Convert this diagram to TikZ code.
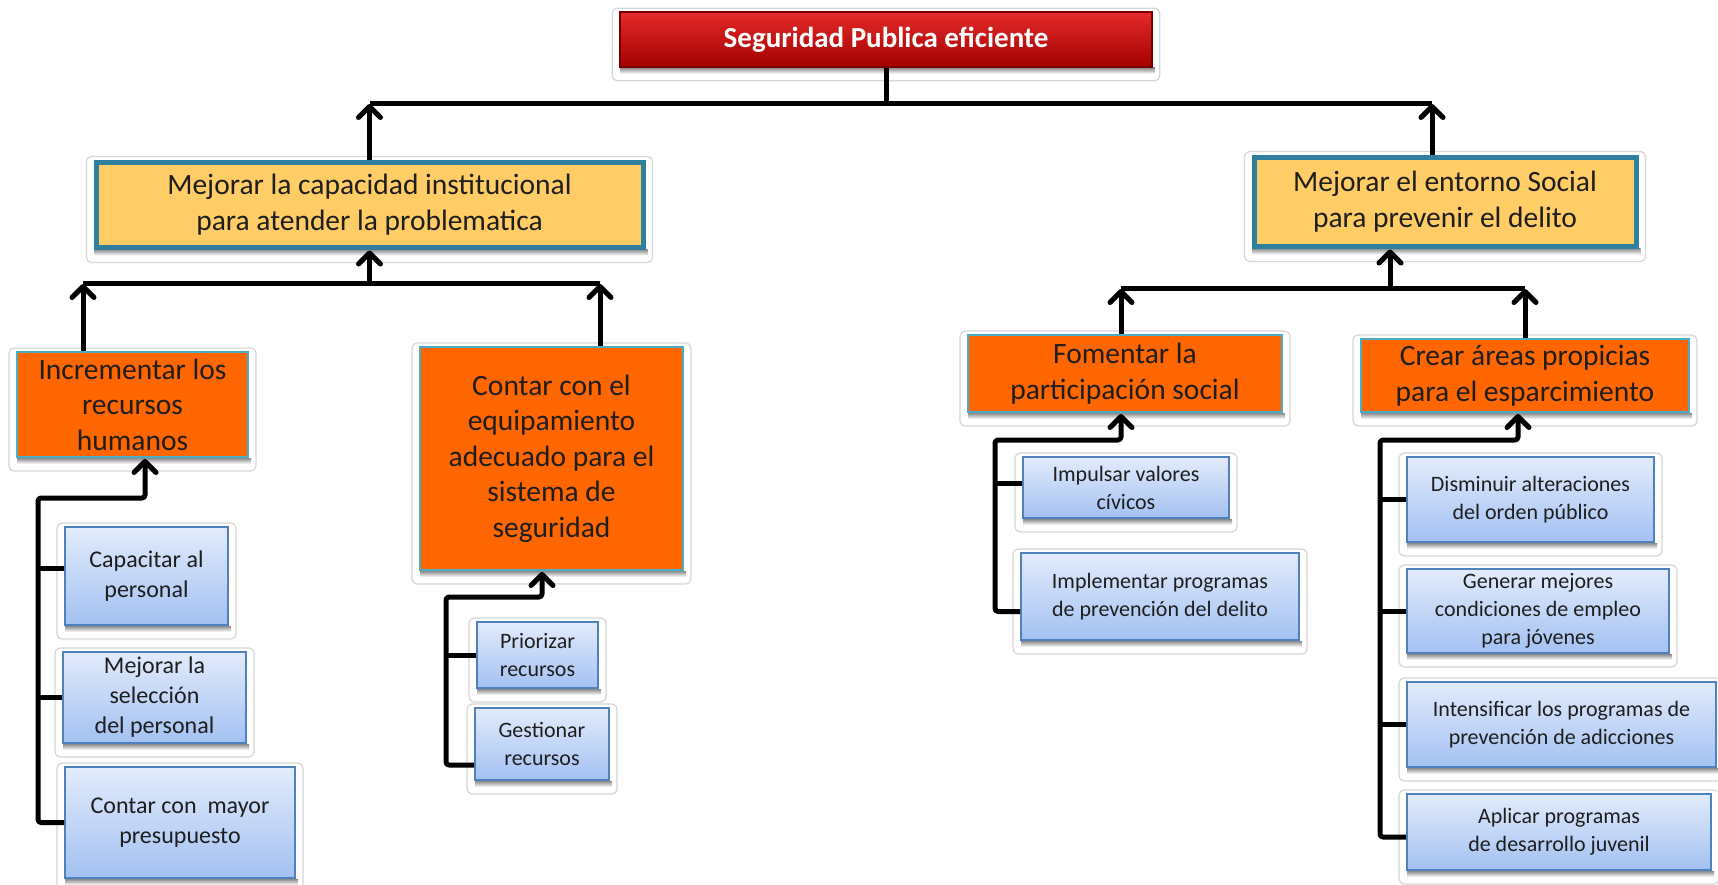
\documentclass[tikz,border=0pt]{standalone}
\usepackage{fontspec}
\setmainfont{Carlito}
\usetikzlibrary{arrows.meta,backgrounds}
\definecolor{yfill}{HTML}{FFCC66}
\definecolor{yborder}{HTML}{2F7F9E}
\definecolor{ofill}{HTML}{FF6600}
\definecolor{oborder}{HTML}{4BACC6}
\definecolor{btop}{HTML}{E2EBFB}
\definecolor{bbot}{HTML}{A3C1F2}
\definecolor{bborder}{HTML}{4F81BD}
\definecolor{rtop}{HTML}{E42A2A}
\definecolor{rbot}{HTML}{A30000}
\definecolor{rborder}{HTML}{7A0000}
\definecolor{txt}{HTML}{1E1E1E}
\newcommand\ftitle{\fontsize{29}{35}\bfseries\selectfont}
\newcommand\fyel{\fontsize{29.5}{35.5}\selectfont}
\newcommand\forg{\fontsize{29.5}{35.5}\selectfont}
\newcommand\fbl{\fontsize{24}{30}\selectfont}
\newcommand\fbs{\fontsize{22}{28}\selectfont}
\begin{document}
\begin{tikzpicture}[x=1pt,y=-1pt,
  box/.style={inner sep=0pt, align=center, text=txt},
  redbox/.style={box, top color=rtop, bottom color=rbot, draw=rborder, line width=1.5pt, text=white, font=\ftitle},
  yelbox/.style={box, fill=yfill, draw=yborder, line width=5pt, font=\fyel},
  orgbox/.style={box, fill=ofill, draw=oborder, line width=2pt, font=\forg},
  blubox/.style={box, top color=btop, bottom color=bbot, draw=bborder, line width=2pt, font=\fbl},
  blusmall/.style={blubox, font=\fbs},
  ln/.style={line width=5pt, black, line join=round},
  arr/.style={ln, -{Straight Barb[length=11pt,width=22pt,line width=5pt,round]}, shorten >=1pt},
  halo/.style={draw=black!16, fill=white, line width=1.2pt, rounded corners=5pt},
]
\useasboundingbox (0,0) rectangle (1718,884);

% nodes
\node[redbox, minimum width=532, minimum height=55] (top) at (886,39.5) {Seguridad Publica eficiente};

\node[yelbox, minimum width=547, minimum height=85] (yL) at (369.5,204.5) {Mejorar la capacidad institucional\\para atender la problematica};
\node[yelbox, minimum width=382, minimum height=89] (yR) at (1445,201.5) {Mejorar el entorno Social\\para prevenir el delito};

\node[orgbox, minimum width=231, minimum height=105] (oInc) at (132.5,404.5) {Incrementar los\\recursos\\humanos};
\node[orgbox, minimum width=263, minimum height=223] (oCon) at (551.5,458.5) {Contar con el\\equipamiento\\adecuado para el\\sistema de\\seguridad};
\node[orgbox, minimum width=314, minimum height=77] (oFom) at (1125,373.5) {Fomentar la\\participación social};
\node[orgbox, minimum width=328, minimum height=73] (oCre) at (1525,375.5) {Crear áreas propicias\\para el esparcimiento};

\node[blubox, minimum width=163, minimum height=98] (bCap) at (146.5,576) {Capacitar al\\personal};
\node[blubox, minimum width=183, minimum height=91] (bMej) at (154.5,697.5) {Mejorar la\\selección\\del personal};
\node[blubox, minimum width=230, minimum height=111] (bMay) at (180,822.5) {Contar con\ \ mayor\\presupuesto};

\node[blusmall, minimum width=121, minimum height=66] (bPri) at (537.5,655) {Priorizar\\recursos};
\node[blusmall, minimum width=134, minimum height=72] (bGes) at (542,744) {Gestionar\\recursos};

\node[blusmall, minimum width=206, minimum height=61] (bImp) at (1126,487.5) {Impulsar valores\\cívicos};
\node[blusmall, minimum width=278, minimum height=87] (bImpl) at (1160,596.5) {Implementar programas\\de prevención del delito};

\node[blusmall, minimum width=247, minimum height=85] (bDis) at (1530.5,499.5) {Disminuir alteraciones\\del orden público};
\node[blusmall, minimum width=262, minimum height=84] (bGen) at (1538,611) {Generar mejores\\condiciones de empleo\\para jóvenes};
\node[blusmall, minimum width=309, minimum height=85] (bInt) at (1561.5,724.5) {Intensificar los programas de\\prevención de adicciones};
\node[blusmall, minimum width=304, minimum height=76] (bApl) at (1559,832) {Aplicar programas\\de desarrollo juvenil};

% halos and shadows
\begin{scope}[on background layer]
\foreach \n in {top,yL,yR,oInc,oCon,oFom,oCre,bCap,bMej,bMay,bPri,bGes,bImp,bImpl,bDis,bGen,bInt,bApl}{
  \draw[halo] ([xshift=-7pt,yshift=3pt]\n.north west) rectangle ([xshift=7pt,yshift=-13pt]\n.south east);
  \shade[top color=black!45, bottom color=white] ([xshift=1pt]\n.south west) rectangle ([xshift=2pt,yshift=-6pt]\n.south east);
}
\end{scope}

% level 1
\coordinate (b1L) at (370,103);
\coordinate (b1R) at (1432,103);
\draw[ln] (top.south) -- (top.south |- b1L);
\draw[ln] (b1L) -- (b1R);
\draw[arr] (yL.north) -- (yL.north |- b1L);
\draw[arr] (yR.north -| b1R) -- (b1R);

% level 2 left
\coordinate (b2L) at (83,283);
\coordinate (b2R) at (600,283);
\draw[ln] (b2L) -- (b2R);
\draw[arr] (yL.south |- b2L) -- (yL.south);
\draw[arr] (oInc.north -| b2L) -- (b2L);
\draw[arr] (oCon.north -| b2R) -- (b2R);

% level 2 right
\coordinate (b3L) at (1121,288);
\coordinate (b3R) at (1525,288);
\coordinate (a3) at (1390,288);
\draw[ln] (b3L) -- (b3R);
\draw[arr] (a3) -- (a3 |- yR.south);
\draw[arr] (oFom.north -| b3L) -- (b3L);
\draw[arr] (oCre.north -| b3R) -- (b3R);

% subtree Incrementar
\coordinate (tI) at (38,498);
\coordinate (aI) at (145,498);
\draw[arr, rounded corners=3pt] (bMay.west) -| (tI) -- (aI) -- (aI |- oInc.south);
\draw[ln] ([yshift=8pt]bCap.west) -- ([yshift=8pt]bCap.west -| tI);
\draw[ln] (bMej.west) -- (bMej.west -| tI);

% subtree Contar equipamiento
\coordinate (tC) at (446,597);
\coordinate (aC) at (542,597);
\draw[arr, rounded corners=3pt] ([yshift=-21pt]bGes.west) -| (tC) -- (aC) -- (aC |- oCon.south);
\draw[ln] (bPri.west) -- (bPri.west -| tC);

% subtree Fomentar
\coordinate (tF) at (995,440);
\coordinate (aF) at (1121,440);
\draw[arr, rounded corners=3pt] ([yshift=-15pt]bImpl.west) -| (tF) -- (aF) -- (aF |- oFom.south);
\draw[ln] ([yshift=4pt]bImp.west) -- ([yshift=4pt]bImp.west -| tF);

% subtree Crear
\coordinate (tR) at (1380,440);
\coordinate (aR) at (1518,440);
\draw[arr, rounded corners=3pt] ([yshift=-5pt]bApl.west) -| (tR) -- (aR) -- (aR |- oCre.south);
\draw[ln] (bDis.west) -- (bDis.west -| tR);
\draw[ln] (bGen.west) -- (bGen.west -| tR);
\draw[ln] (bInt.west) -- (bInt.west -| tR);
\end{tikzpicture}
\end{document}
